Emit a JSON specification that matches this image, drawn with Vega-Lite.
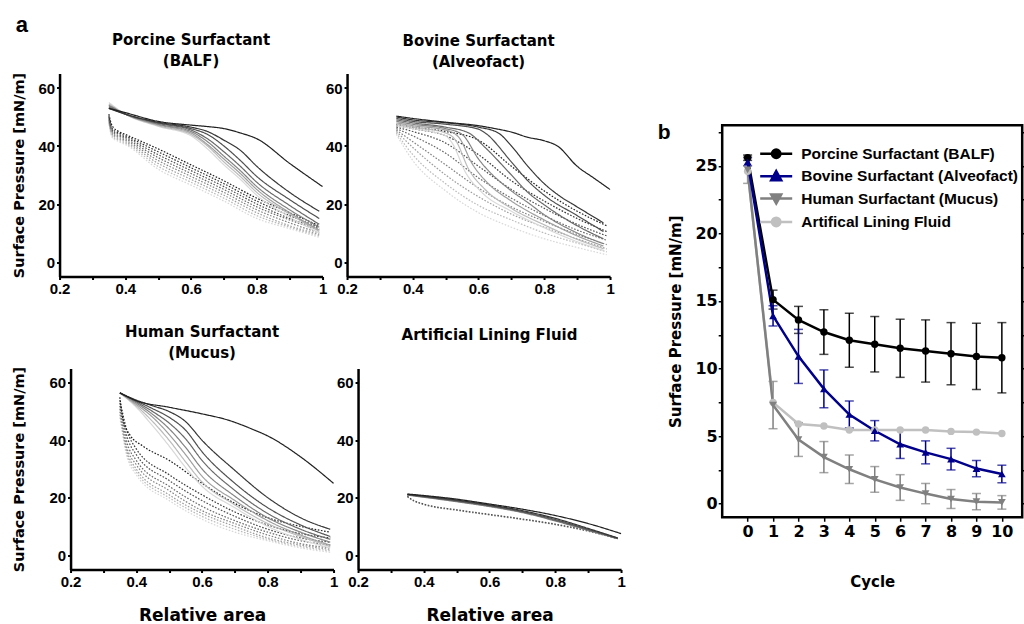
{
"$schema": "https://vega.github.io/schema/vega-lite/v6.json",
"padding": {"left": 7.05, "top": 13.5, "right": 0, "bottom": 0},
"background": "white",
"config": {
  "font": "DejaVu Sans",
  "view": {"stroke": null},
  "axis": {"labelFont": "Liberation Sans", "labelFontWeight": "bold", "labelColor": "black", "titleFont": "DejaVu Sans", "titleFontWeight": "bold", "titleColor": "black", "domainColor": "black", "tickColor": "black", "grid": false, "labelFlush": false, "labelOverlap": false},
  "title": {"font": "DejaVu Sans", "fontWeight": "bold", "color": "black"}
},
"datasets": {
"iso": [
{"p":"A","n":8,"d":"e","x":0.35,"y":47.5},{"p":"A","n":8,"d":"e","x":0.36,"y":43},{"p":"A","n":8,"d":"e","x":0.38,"y":41.5},{"p":"A","n":8,"d":"e","x":0.4,"y":40.5},{"p":"A","n":8,"d":"e","x":0.5,"y":32},{"p":"A","n":8,"d":"e","x":0.6,"y":26.5},{"p":"A","n":8,"d":"e","x":0.7,"y":21},{"p":"A","n":8,"d":"e","x":0.8,"y":15},{"p":"A","n":8,"d":"e","x":0.9,"y":11.5},{"p":"A","n":8,"d":"e","x":0.99,"y":8.5},
{"p":"A","n":7,"d":"e","x":0.35,"y":48},{"p":"A","n":7,"d":"e","x":0.36,"y":43.5},{"p":"A","n":7,"d":"e","x":0.38,"y":42},{"p":"A","n":7,"d":"e","x":0.4,"y":41},{"p":"A","n":7,"d":"e","x":0.5,"y":33},{"p":"A","n":7,"d":"e","x":0.6,"y":27.5},{"p":"A","n":7,"d":"e","x":0.7,"y":22},{"p":"A","n":7,"d":"e","x":0.8,"y":16},{"p":"A","n":7,"d":"e","x":0.9,"y":12},{"p":"A","n":7,"d":"e","x":0.99,"y":9},
{"p":"A","n":6,"d":"e","x":0.35,"y":48.5},{"p":"A","n":6,"d":"e","x":0.36,"y":44},{"p":"A","n":6,"d":"e","x":0.38,"y":42.5},{"p":"A","n":6,"d":"e","x":0.4,"y":41.5},{"p":"A","n":6,"d":"e","x":0.5,"y":34},{"p":"A","n":6,"d":"e","x":0.6,"y":28.5},{"p":"A","n":6,"d":"e","x":0.7,"y":23},{"p":"A","n":6,"d":"e","x":0.8,"y":17},{"p":"A","n":6,"d":"e","x":0.9,"y":12.5},{"p":"A","n":6,"d":"e","x":0.99,"y":9.5},
{"p":"A","n":5,"d":"e","x":0.35,"y":49},{"p":"A","n":5,"d":"e","x":0.36,"y":44.5},{"p":"A","n":5,"d":"e","x":0.38,"y":43},{"p":"A","n":5,"d":"e","x":0.4,"y":42},{"p":"A","n":5,"d":"e","x":0.5,"y":35},{"p":"A","n":5,"d":"e","x":0.6,"y":29.5},{"p":"A","n":5,"d":"e","x":0.7,"y":24},{"p":"A","n":5,"d":"e","x":0.8,"y":18},{"p":"A","n":5,"d":"e","x":0.9,"y":13.5},{"p":"A","n":5,"d":"e","x":0.99,"y":10},
{"p":"A","n":4,"d":"e","x":0.35,"y":49.5},{"p":"A","n":4,"d":"e","x":0.36,"y":45},{"p":"A","n":4,"d":"e","x":0.38,"y":43.5},{"p":"A","n":4,"d":"e","x":0.4,"y":42.5},{"p":"A","n":4,"d":"e","x":0.5,"y":36},{"p":"A","n":4,"d":"e","x":0.6,"y":30.5},{"p":"A","n":4,"d":"e","x":0.7,"y":25},{"p":"A","n":4,"d":"e","x":0.8,"y":19},{"p":"A","n":4,"d":"e","x":0.9,"y":14.5},{"p":"A","n":4,"d":"e","x":0.99,"y":11},
{"p":"A","n":3,"d":"e","x":0.35,"y":50},{"p":"A","n":3,"d":"e","x":0.36,"y":45.5},{"p":"A","n":3,"d":"e","x":0.38,"y":44},{"p":"A","n":3,"d":"e","x":0.4,"y":43},{"p":"A","n":3,"d":"e","x":0.5,"y":37},{"p":"A","n":3,"d":"e","x":0.6,"y":31.5},{"p":"A","n":3,"d":"e","x":0.7,"y":26},{"p":"A","n":3,"d":"e","x":0.8,"y":20},{"p":"A","n":3,"d":"e","x":0.9,"y":15},{"p":"A","n":3,"d":"e","x":0.99,"y":11.5},
{"p":"A","n":2,"d":"e","x":0.35,"y":50.5},{"p":"A","n":2,"d":"e","x":0.36,"y":46},{"p":"A","n":2,"d":"e","x":0.38,"y":44.5},{"p":"A","n":2,"d":"e","x":0.4,"y":43.5},{"p":"A","n":2,"d":"e","x":0.5,"y":38},{"p":"A","n":2,"d":"e","x":0.6,"y":32.5},{"p":"A","n":2,"d":"e","x":0.7,"y":27},{"p":"A","n":2,"d":"e","x":0.8,"y":21},{"p":"A","n":2,"d":"e","x":0.9,"y":16},{"p":"A","n":2,"d":"e","x":0.99,"y":12},
{"p":"A","n":1,"d":"e","x":0.35,"y":51},{"p":"A","n":1,"d":"e","x":0.36,"y":47},{"p":"A","n":1,"d":"e","x":0.38,"y":45},{"p":"A","n":1,"d":"e","x":0.4,"y":44},{"p":"A","n":1,"d":"e","x":0.5,"y":39},{"p":"A","n":1,"d":"e","x":0.6,"y":33.5},{"p":"A","n":1,"d":"e","x":0.7,"y":28},{"p":"A","n":1,"d":"e","x":0.8,"y":22},{"p":"A","n":1,"d":"e","x":0.9,"y":17},{"p":"A","n":1,"d":"e","x":0.99,"y":12.5},
{"p":"A","n":8,"d":"s","x":0.35,"y":55},{"p":"A","n":8,"d":"s","x":0.4,"y":51},{"p":"A","n":8,"d":"s","x":0.5,"y":46.8},{"p":"A","n":8,"d":"s","x":0.6,"y":43.5},{"p":"A","n":8,"d":"s","x":0.65,"y":39},{"p":"A","n":8,"d":"s","x":0.7,"y":33.5},{"p":"A","n":8,"d":"s","x":0.75,"y":28.5},{"p":"A","n":8,"d":"s","x":0.8,"y":23},{"p":"A","n":8,"d":"s","x":0.9,"y":15.5},{"p":"A","n":8,"d":"s","x":0.99,"y":10},
{"p":"A","n":7,"d":"s","x":0.35,"y":54.5},{"p":"A","n":7,"d":"s","x":0.4,"y":51},{"p":"A","n":7,"d":"s","x":0.5,"y":47},{"p":"A","n":7,"d":"s","x":0.6,"y":44},{"p":"A","n":7,"d":"s","x":0.65,"y":40},{"p":"A","n":7,"d":"s","x":0.7,"y":34.5},{"p":"A","n":7,"d":"s","x":0.75,"y":29.5},{"p":"A","n":7,"d":"s","x":0.8,"y":24},{"p":"A","n":7,"d":"s","x":0.9,"y":16.5},{"p":"A","n":7,"d":"s","x":0.99,"y":10.5},
{"p":"A","n":6,"d":"s","x":0.35,"y":54},{"p":"A","n":6,"d":"s","x":0.4,"y":51},{"p":"A","n":6,"d":"s","x":0.5,"y":47.3},{"p":"A","n":6,"d":"s","x":0.6,"y":44.5},{"p":"A","n":6,"d":"s","x":0.65,"y":40.5},{"p":"A","n":6,"d":"s","x":0.7,"y":35.5},{"p":"A","n":6,"d":"s","x":0.75,"y":30.5},{"p":"A","n":6,"d":"s","x":0.8,"y":25},{"p":"A","n":6,"d":"s","x":0.9,"y":17},{"p":"A","n":6,"d":"s","x":0.99,"y":11},
{"p":"A","n":5,"d":"s","x":0.35,"y":54},{"p":"A","n":5,"d":"s","x":0.4,"y":51},{"p":"A","n":5,"d":"s","x":0.5,"y":47.5},{"p":"A","n":5,"d":"s","x":0.6,"y":45},{"p":"A","n":5,"d":"s","x":0.65,"y":41.5},{"p":"A","n":5,"d":"s","x":0.7,"y":36.5},{"p":"A","n":5,"d":"s","x":0.75,"y":31.5},{"p":"A","n":5,"d":"s","x":0.8,"y":26},{"p":"A","n":5,"d":"s","x":0.9,"y":18},{"p":"A","n":5,"d":"s","x":0.99,"y":12},
{"p":"A","n":4,"d":"s","x":0.35,"y":53.5},{"p":"A","n":4,"d":"s","x":0.4,"y":51},{"p":"A","n":4,"d":"s","x":0.5,"y":47.8},{"p":"A","n":4,"d":"s","x":0.6,"y":45.5},{"p":"A","n":4,"d":"s","x":0.65,"y":42.5},{"p":"A","n":4,"d":"s","x":0.7,"y":38},{"p":"A","n":4,"d":"s","x":0.75,"y":33},{"p":"A","n":4,"d":"s","x":0.8,"y":27.5},{"p":"A","n":4,"d":"s","x":0.9,"y":19.5},{"p":"A","n":4,"d":"s","x":0.99,"y":13},
{"p":"A","n":3,"d":"s","x":0.35,"y":53},{"p":"A","n":3,"d":"s","x":0.4,"y":51},{"p":"A","n":3,"d":"s","x":0.5,"y":48},{"p":"A","n":3,"d":"s","x":0.6,"y":46},{"p":"A","n":3,"d":"s","x":0.65,"y":44},{"p":"A","n":3,"d":"s","x":0.7,"y":40},{"p":"A","n":3,"d":"s","x":0.75,"y":35},{"p":"A","n":3,"d":"s","x":0.8,"y":29.5},{"p":"A","n":3,"d":"s","x":0.9,"y":21.5},{"p":"A","n":3,"d":"s","x":0.99,"y":15},
{"p":"A","n":2,"d":"s","x":0.35,"y":53},{"p":"A","n":2,"d":"s","x":0.4,"y":51},{"p":"A","n":2,"d":"s","x":0.5,"y":48.2},{"p":"A","n":2,"d":"s","x":0.6,"y":46.5},{"p":"A","n":2,"d":"s","x":0.65,"y":45},{"p":"A","n":2,"d":"s","x":0.7,"y":42},{"p":"A","n":2,"d":"s","x":0.75,"y":38.5},{"p":"A","n":2,"d":"s","x":0.8,"y":33},{"p":"A","n":2,"d":"s","x":0.9,"y":24},{"p":"A","n":2,"d":"s","x":0.99,"y":17.5},
{"p":"A","n":1,"d":"s","x":0.35,"y":53},{"p":"A","n":1,"d":"s","x":0.4,"y":51.5},{"p":"A","n":1,"d":"s","x":0.5,"y":48.5},{"p":"A","n":1,"d":"s","x":0.6,"y":47.2},{"p":"A","n":1,"d":"s","x":0.65,"y":46.7},{"p":"A","n":1,"d":"s","x":0.7,"y":46},{"p":"A","n":1,"d":"s","x":0.75,"y":44.5},{"p":"A","n":1,"d":"s","x":0.8,"y":42.5},{"p":"A","n":1,"d":"s","x":0.9,"y":34},{"p":"A","n":1,"d":"s","x":1.0,"y":26},
{"p":"B","n":8,"d":"e","x":0.35,"y":44},{"p":"B","n":8,"d":"e","x":0.4,"y":35},{"p":"B","n":8,"d":"e","x":0.5,"y":24.5},{"p":"B","n":8,"d":"e","x":0.6,"y":17},{"p":"B","n":8,"d":"e","x":0.7,"y":12},{"p":"B","n":8,"d":"e","x":0.8,"y":8},{"p":"B","n":8,"d":"e","x":0.9,"y":5},{"p":"B","n":8,"d":"e","x":0.99,"y":2.5},
{"p":"B","n":7,"d":"e","x":0.35,"y":44.5},{"p":"B","n":7,"d":"e","x":0.4,"y":37},{"p":"B","n":7,"d":"e","x":0.5,"y":27},{"p":"B","n":7,"d":"e","x":0.6,"y":19.5},{"p":"B","n":7,"d":"e","x":0.7,"y":14.5},{"p":"B","n":7,"d":"e","x":0.8,"y":10},{"p":"B","n":7,"d":"e","x":0.9,"y":6.5},{"p":"B","n":7,"d":"e","x":0.99,"y":3.5},
{"p":"B","n":6,"d":"e","x":0.35,"y":45},{"p":"B","n":6,"d":"e","x":0.4,"y":39.5},{"p":"B","n":6,"d":"e","x":0.5,"y":30},{"p":"B","n":6,"d":"e","x":0.6,"y":22.5},{"p":"B","n":6,"d":"e","x":0.7,"y":16.5},{"p":"B","n":6,"d":"e","x":0.8,"y":12},{"p":"B","n":6,"d":"e","x":0.9,"y":8},{"p":"B","n":6,"d":"e","x":0.99,"y":4.5},
{"p":"B","n":5,"d":"e","x":0.35,"y":45.5},{"p":"B","n":5,"d":"e","x":0.4,"y":41.5},{"p":"B","n":5,"d":"e","x":0.5,"y":33.5},{"p":"B","n":5,"d":"e","x":0.6,"y":25.5},{"p":"B","n":5,"d":"e","x":0.7,"y":19},{"p":"B","n":5,"d":"e","x":0.8,"y":14},{"p":"B","n":5,"d":"e","x":0.9,"y":9.5},{"p":"B","n":5,"d":"e","x":0.99,"y":6},
{"p":"B","n":4,"d":"e","x":0.35,"y":46},{"p":"B","n":4,"d":"e","x":0.4,"y":43.5},{"p":"B","n":4,"d":"e","x":0.5,"y":37.5},{"p":"B","n":4,"d":"e","x":0.6,"y":29},{"p":"B","n":4,"d":"e","x":0.7,"y":22},{"p":"B","n":4,"d":"e","x":0.8,"y":16},{"p":"B","n":4,"d":"e","x":0.9,"y":11},{"p":"B","n":4,"d":"e","x":0.99,"y":7.5},
{"p":"B","n":3,"d":"e","x":0.35,"y":46.5},{"p":"B","n":3,"d":"e","x":0.4,"y":45},{"p":"B","n":3,"d":"e","x":0.5,"y":41},{"p":"B","n":3,"d":"e","x":0.6,"y":33},{"p":"B","n":3,"d":"e","x":0.7,"y":25},{"p":"B","n":3,"d":"e","x":0.8,"y":18.5},{"p":"B","n":3,"d":"e","x":0.9,"y":13},{"p":"B","n":3,"d":"e","x":0.99,"y":9},
{"p":"B","n":2,"d":"e","x":0.35,"y":47},{"p":"B","n":2,"d":"e","x":0.4,"y":46},{"p":"B","n":2,"d":"e","x":0.5,"y":43.5},{"p":"B","n":2,"d":"e","x":0.6,"y":37},{"p":"B","n":2,"d":"e","x":0.7,"y":28},{"p":"B","n":2,"d":"e","x":0.8,"y":21},{"p":"B","n":2,"d":"e","x":0.9,"y":15},{"p":"B","n":2,"d":"e","x":0.99,"y":10.5},
{"p":"B","n":1,"d":"e","x":0.35,"y":47.5},{"p":"B","n":1,"d":"e","x":0.4,"y":46.5},{"p":"B","n":1,"d":"e","x":0.5,"y":45},{"p":"B","n":1,"d":"e","x":0.6,"y":42},{"p":"B","n":1,"d":"e","x":0.7,"y":33},{"p":"B","n":1,"d":"e","x":0.8,"y":24.5},{"p":"B","n":1,"d":"e","x":0.9,"y":17.5},{"p":"B","n":1,"d":"e","x":0.99,"y":12.5},
{"p":"B","n":8,"d":"s","x":0.35,"y":47},{"p":"B","n":8,"d":"s","x":0.4,"y":46},{"p":"B","n":8,"d":"s","x":0.5,"y":43.5},{"p":"B","n":8,"d":"s","x":0.52,"y":41},{"p":"B","n":8,"d":"s","x":0.56,"y":31},{"p":"B","n":8,"d":"s","x":0.61,"y":24},{"p":"B","n":8,"d":"s","x":0.7,"y":17.5},{"p":"B","n":8,"d":"s","x":0.8,"y":11.8},{"p":"B","n":8,"d":"s","x":0.9,"y":7},{"p":"B","n":8,"d":"s","x":0.98,"y":4},
{"p":"B","n":7,"d":"s","x":0.35,"y":47.5},{"p":"B","n":7,"d":"s","x":0.4,"y":46.5},{"p":"B","n":7,"d":"s","x":0.5,"y":44.5},{"p":"B","n":7,"d":"s","x":0.53,"y":42},{"p":"B","n":7,"d":"s","x":0.57,"y":32},{"p":"B","n":7,"d":"s","x":0.62,"y":25},{"p":"B","n":7,"d":"s","x":0.7,"y":18.5},{"p":"B","n":7,"d":"s","x":0.8,"y":12.8},{"p":"B","n":7,"d":"s","x":0.9,"y":7.8},{"p":"B","n":7,"d":"s","x":0.98,"y":4.6},
{"p":"B","n":6,"d":"s","x":0.35,"y":48},{"p":"B","n":6,"d":"s","x":0.4,"y":47},{"p":"B","n":6,"d":"s","x":0.5,"y":45.5},{"p":"B","n":6,"d":"s","x":0.54,"y":43},{"p":"B","n":6,"d":"s","x":0.58,"y":34},{"p":"B","n":6,"d":"s","x":0.63,"y":27},{"p":"B","n":6,"d":"s","x":0.7,"y":21},{"p":"B","n":6,"d":"s","x":0.8,"y":14.5},{"p":"B","n":6,"d":"s","x":0.9,"y":9},{"p":"B","n":6,"d":"s","x":0.98,"y":5.5},
{"p":"B","n":5,"d":"s","x":0.35,"y":48.5},{"p":"B","n":5,"d":"s","x":0.4,"y":47.5},{"p":"B","n":5,"d":"s","x":0.5,"y":46},{"p":"B","n":5,"d":"s","x":0.55,"y":44},{"p":"B","n":5,"d":"s","x":0.6,"y":35.5},{"p":"B","n":5,"d":"s","x":0.7,"y":24.5},{"p":"B","n":5,"d":"s","x":0.75,"y":20.5},{"p":"B","n":5,"d":"s","x":0.8,"y":16.3},{"p":"B","n":5,"d":"s","x":0.9,"y":10},{"p":"B","n":5,"d":"s","x":0.98,"y":6.3},
{"p":"B","n":4,"d":"s","x":0.35,"y":49},{"p":"B","n":4,"d":"s","x":0.4,"y":48},{"p":"B","n":4,"d":"s","x":0.5,"y":46.5},{"p":"B","n":4,"d":"s","x":0.57,"y":44.5},{"p":"B","n":4,"d":"s","x":0.62,"y":39.5},{"p":"B","n":4,"d":"s","x":0.7,"y":30},{"p":"B","n":4,"d":"s","x":0.75,"y":24},{"p":"B","n":4,"d":"s","x":0.8,"y":19.7},{"p":"B","n":4,"d":"s","x":0.9,"y":12.5},{"p":"B","n":4,"d":"s","x":0.98,"y":8},
{"p":"B","n":3,"d":"s","x":0.35,"y":49.5},{"p":"B","n":3,"d":"s","x":0.4,"y":48.5},{"p":"B","n":3,"d":"s","x":0.5,"y":47.5},{"p":"B","n":3,"d":"s","x":0.6,"y":45.8},{"p":"B","n":3,"d":"s","x":0.62,"y":44.5},{"p":"B","n":3,"d":"s","x":0.7,"y":34.5},{"p":"B","n":3,"d":"s","x":0.75,"y":28},{"p":"B","n":3,"d":"s","x":0.8,"y":23},{"p":"B","n":3,"d":"s","x":0.9,"y":16},{"p":"B","n":3,"d":"s","x":0.98,"y":10.5},
{"p":"B","n":2,"d":"s","x":0.35,"y":50},{"p":"B","n":2,"d":"s","x":0.4,"y":49},{"p":"B","n":2,"d":"s","x":0.5,"y":48},{"p":"B","n":2,"d":"s","x":0.6,"y":46.5},{"p":"B","n":2,"d":"s","x":0.66,"y":44.5},{"p":"B","n":2,"d":"s","x":0.7,"y":40},{"p":"B","n":2,"d":"s","x":0.75,"y":33},{"p":"B","n":2,"d":"s","x":0.8,"y":27},{"p":"B","n":2,"d":"s","x":0.85,"y":22.5},{"p":"B","n":2,"d":"s","x":0.9,"y":19},{"p":"B","n":2,"d":"s","x":0.98,"y":13.5},
{"p":"B","n":1,"d":"s","x":0.35,"y":50.3},{"p":"B","n":1,"d":"s","x":0.4,"y":49.5},{"p":"B","n":1,"d":"s","x":0.5,"y":48.2},{"p":"B","n":1,"d":"s","x":0.6,"y":47},{"p":"B","n":1,"d":"s","x":0.65,"y":46},{"p":"B","n":1,"d":"s","x":0.7,"y":44.8},{"p":"B","n":1,"d":"s","x":0.75,"y":43},{"p":"B","n":1,"d":"s","x":0.8,"y":41.8},{"p":"B","n":1,"d":"s","x":0.84,"y":40},{"p":"B","n":1,"d":"s","x":0.9,"y":33},{"p":"B","n":1,"d":"s","x":0.95,"y":29},{"p":"B","n":1,"d":"s","x":1.0,"y":25},
{"p":"C","n":8,"d":"e","x":0.35,"y":48},{"p":"C","n":8,"d":"e","x":0.37,"y":35},{"p":"C","n":8,"d":"e","x":0.4,"y":28},{"p":"C","n":8,"d":"e","x":0.5,"y":19},{"p":"C","n":8,"d":"e","x":0.6,"y":12.5},{"p":"C","n":8,"d":"e","x":0.7,"y":8},{"p":"C","n":8,"d":"e","x":0.8,"y":5},{"p":"C","n":8,"d":"e","x":0.9,"y":2.5},{"p":"C","n":8,"d":"e","x":0.99,"y":1},
{"p":"C","n":7,"d":"e","x":0.35,"y":49},{"p":"C","n":7,"d":"e","x":0.37,"y":36},{"p":"C","n":7,"d":"e","x":0.4,"y":29},{"p":"C","n":7,"d":"e","x":0.5,"y":20},{"p":"C","n":7,"d":"e","x":0.6,"y":13.5},{"p":"C","n":7,"d":"e","x":0.7,"y":9},{"p":"C","n":7,"d":"e","x":0.8,"y":5.5},{"p":"C","n":7,"d":"e","x":0.9,"y":3},{"p":"C","n":7,"d":"e","x":0.99,"y":1.5},
{"p":"C","n":6,"d":"e","x":0.35,"y":50},{"p":"C","n":6,"d":"e","x":0.37,"y":37},{"p":"C","n":6,"d":"e","x":0.4,"y":30},{"p":"C","n":6,"d":"e","x":0.5,"y":21},{"p":"C","n":6,"d":"e","x":0.6,"y":14.5},{"p":"C","n":6,"d":"e","x":0.7,"y":10},{"p":"C","n":6,"d":"e","x":0.8,"y":6},{"p":"C","n":6,"d":"e","x":0.9,"y":3.5},{"p":"C","n":6,"d":"e","x":0.99,"y":2},
{"p":"C","n":5,"d":"e","x":0.35,"y":51},{"p":"C","n":5,"d":"e","x":0.37,"y":38},{"p":"C","n":5,"d":"e","x":0.4,"y":31.5},{"p":"C","n":5,"d":"e","x":0.5,"y":22.5},{"p":"C","n":5,"d":"e","x":0.6,"y":15.5},{"p":"C","n":5,"d":"e","x":0.7,"y":11},{"p":"C","n":5,"d":"e","x":0.8,"y":7},{"p":"C","n":5,"d":"e","x":0.9,"y":4},{"p":"C","n":5,"d":"e","x":0.99,"y":2.5},
{"p":"C","n":4,"d":"e","x":0.35,"y":52},{"p":"C","n":4,"d":"e","x":0.37,"y":40},{"p":"C","n":4,"d":"e","x":0.4,"y":33},{"p":"C","n":4,"d":"e","x":0.5,"y":24},{"p":"C","n":4,"d":"e","x":0.6,"y":17},{"p":"C","n":4,"d":"e","x":0.7,"y":12},{"p":"C","n":4,"d":"e","x":0.8,"y":8},{"p":"C","n":4,"d":"e","x":0.9,"y":5},{"p":"C","n":4,"d":"e","x":0.99,"y":3.5},
{"p":"C","n":3,"d":"e","x":0.35,"y":53},{"p":"C","n":3,"d":"e","x":0.37,"y":42},{"p":"C","n":3,"d":"e","x":0.4,"y":35},{"p":"C","n":3,"d":"e","x":0.5,"y":26},{"p":"C","n":3,"d":"e","x":0.6,"y":19},{"p":"C","n":3,"d":"e","x":0.7,"y":13.5},{"p":"C","n":3,"d":"e","x":0.8,"y":9},{"p":"C","n":3,"d":"e","x":0.9,"y":6},{"p":"C","n":3,"d":"e","x":0.99,"y":4.5},
{"p":"C","n":2,"d":"e","x":0.35,"y":54},{"p":"C","n":2,"d":"e","x":0.37,"y":44},{"p":"C","n":2,"d":"e","x":0.4,"y":37},{"p":"C","n":2,"d":"e","x":0.5,"y":28},{"p":"C","n":2,"d":"e","x":0.6,"y":21},{"p":"C","n":2,"d":"e","x":0.7,"y":15},{"p":"C","n":2,"d":"e","x":0.8,"y":10.5},{"p":"C","n":2,"d":"e","x":0.9,"y":7.5},{"p":"C","n":2,"d":"e","x":0.99,"y":6},
{"p":"C","n":1,"d":"e","x":0.35,"y":55},{"p":"C","n":1,"d":"e","x":0.36,"y":47},{"p":"C","n":1,"d":"e","x":0.38,"y":42},{"p":"C","n":1,"d":"e","x":0.42,"y":38},{"p":"C","n":1,"d":"e","x":0.5,"y":33},{"p":"C","n":1,"d":"e","x":0.6,"y":25},{"p":"C","n":1,"d":"e","x":0.7,"y":18},{"p":"C","n":1,"d":"e","x":0.8,"y":13},{"p":"C","n":1,"d":"e","x":0.9,"y":10},{"p":"C","n":1,"d":"e","x":0.99,"y":8},
{"p":"C","n":8,"d":"s","x":0.35,"y":56.5},{"p":"C","n":8,"d":"s","x":0.4,"y":51.5},{"p":"C","n":8,"d":"s","x":0.45,"y":45},{"p":"C","n":8,"d":"s","x":0.5,"y":38},{"p":"C","n":8,"d":"s","x":0.55,"y":30.5},{"p":"C","n":8,"d":"s","x":0.6,"y":24},{"p":"C","n":8,"d":"s","x":0.7,"y":16.5},{"p":"C","n":8,"d":"s","x":0.8,"y":10},{"p":"C","n":8,"d":"s","x":0.9,"y":5.5},{"p":"C","n":8,"d":"s","x":0.99,"y":2.5},
{"p":"C","n":7,"d":"s","x":0.35,"y":56.5},{"p":"C","n":7,"d":"s","x":0.4,"y":52},{"p":"C","n":7,"d":"s","x":0.45,"y":46.5},{"p":"C","n":7,"d":"s","x":0.5,"y":40},{"p":"C","n":7,"d":"s","x":0.55,"y":32.5},{"p":"C","n":7,"d":"s","x":0.6,"y":25.5},{"p":"C","n":7,"d":"s","x":0.7,"y":17.5},{"p":"C","n":7,"d":"s","x":0.8,"y":11},{"p":"C","n":7,"d":"s","x":0.9,"y":6.5},{"p":"C","n":7,"d":"s","x":0.99,"y":3},
{"p":"C","n":6,"d":"s","x":0.35,"y":56.5},{"p":"C","n":6,"d":"s","x":0.4,"y":52.5},{"p":"C","n":6,"d":"s","x":0.45,"y":48},{"p":"C","n":6,"d":"s","x":0.5,"y":42},{"p":"C","n":6,"d":"s","x":0.55,"y":35},{"p":"C","n":6,"d":"s","x":0.6,"y":27.5},{"p":"C","n":6,"d":"s","x":0.7,"y":19},{"p":"C","n":6,"d":"s","x":0.8,"y":12},{"p":"C","n":6,"d":"s","x":0.9,"y":7},{"p":"C","n":6,"d":"s","x":0.99,"y":3.5},
{"p":"C","n":5,"d":"s","x":0.35,"y":56.5},{"p":"C","n":5,"d":"s","x":0.4,"y":53},{"p":"C","n":5,"d":"s","x":0.45,"y":49},{"p":"C","n":5,"d":"s","x":0.5,"y":44},{"p":"C","n":5,"d":"s","x":0.55,"y":37.5},{"p":"C","n":5,"d":"s","x":0.6,"y":30},{"p":"C","n":5,"d":"s","x":0.7,"y":20.5},{"p":"C","n":5,"d":"s","x":0.8,"y":13},{"p":"C","n":5,"d":"s","x":0.9,"y":8},{"p":"C","n":5,"d":"s","x":0.99,"y":4.5},
{"p":"C","n":4,"d":"s","x":0.35,"y":56.5},{"p":"C","n":4,"d":"s","x":0.4,"y":53.4},{"p":"C","n":4,"d":"s","x":0.45,"y":50},{"p":"C","n":4,"d":"s","x":0.5,"y":46},{"p":"C","n":4,"d":"s","x":0.55,"y":40.5},{"p":"C","n":4,"d":"s","x":0.6,"y":33},{"p":"C","n":4,"d":"s","x":0.7,"y":22.5},{"p":"C","n":4,"d":"s","x":0.8,"y":14.5},{"p":"C","n":4,"d":"s","x":0.9,"y":9},{"p":"C","n":4,"d":"s","x":0.99,"y":5.5},
{"p":"C","n":3,"d":"s","x":0.35,"y":56.5},{"p":"C","n":3,"d":"s","x":0.4,"y":53.7},{"p":"C","n":3,"d":"s","x":0.45,"y":51},{"p":"C","n":3,"d":"s","x":0.5,"y":48},{"p":"C","n":3,"d":"s","x":0.55,"y":43.5},{"p":"C","n":3,"d":"s","x":0.6,"y":36},{"p":"C","n":3,"d":"s","x":0.7,"y":25},{"p":"C","n":3,"d":"s","x":0.8,"y":16.5},{"p":"C","n":3,"d":"s","x":0.9,"y":10.5},{"p":"C","n":3,"d":"s","x":0.99,"y":6.5},
{"p":"C","n":2,"d":"s","x":0.35,"y":56.5},{"p":"C","n":2,"d":"s","x":0.4,"y":54},{"p":"C","n":2,"d":"s","x":0.45,"y":52},{"p":"C","n":2,"d":"s","x":0.5,"y":50},{"p":"C","n":2,"d":"s","x":0.55,"y":46.5},{"p":"C","n":2,"d":"s","x":0.6,"y":40},{"p":"C","n":2,"d":"s","x":0.7,"y":29.5},{"p":"C","n":2,"d":"s","x":0.8,"y":20},{"p":"C","n":2,"d":"s","x":0.9,"y":13},{"p":"C","n":2,"d":"s","x":0.99,"y":9},
{"p":"C","n":1,"d":"s","x":0.35,"y":56.5},{"p":"C","n":1,"d":"s","x":0.4,"y":53.8},{"p":"C","n":1,"d":"s","x":0.5,"y":51.5},{"p":"C","n":1,"d":"s","x":0.6,"y":49.2},{"p":"C","n":1,"d":"s","x":0.68,"y":47},{"p":"C","n":1,"d":"s","x":0.75,"y":44},{"p":"C","n":1,"d":"s","x":0.8,"y":41.5},{"p":"C","n":1,"d":"s","x":0.9,"y":34.2},{"p":"C","n":1,"d":"s","x":1.0,"y":25},
{"p":"D","n":5,"d":"e","x":0.35,"y":20.3},{"p":"D","n":5,"d":"e","x":0.37,"y":18.8},{"p":"D","n":5,"d":"e","x":0.4,"y":17.6},{"p":"D","n":5,"d":"e","x":0.5,"y":15.6},{"p":"D","n":5,"d":"e","x":0.6,"y":14},{"p":"D","n":5,"d":"e","x":0.7,"y":12.4},{"p":"D","n":5,"d":"e","x":0.8,"y":10.6},{"p":"D","n":5,"d":"e","x":0.9,"y":8.3},{"p":"D","n":5,"d":"e","x":0.99,"y":5.7},
{"p":"D","n":3,"d":"e","x":0.35,"y":20.5},{"p":"D","n":3,"d":"e","x":0.37,"y":19},{"p":"D","n":3,"d":"e","x":0.4,"y":17.8},{"p":"D","n":3,"d":"e","x":0.5,"y":15.8},{"p":"D","n":3,"d":"e","x":0.6,"y":14.2},{"p":"D","n":3,"d":"e","x":0.7,"y":12.6},{"p":"D","n":3,"d":"e","x":0.8,"y":10.8},{"p":"D","n":3,"d":"e","x":0.9,"y":8.5},{"p":"D","n":3,"d":"e","x":0.99,"y":5.8},
{"p":"D","n":5,"d":"s","x":0.35,"y":20.9},{"p":"D","n":5,"d":"s","x":0.5,"y":18.6},{"p":"D","n":5,"d":"s","x":0.6,"y":16.9},{"p":"D","n":5,"d":"s","x":0.7,"y":14.8},{"p":"D","n":5,"d":"s","x":0.8,"y":11.9},{"p":"D","n":5,"d":"s","x":0.9,"y":8.6},{"p":"D","n":5,"d":"s","x":0.99,"y":5.7},
{"p":"D","n":4,"d":"s","x":0.35,"y":21},{"p":"D","n":4,"d":"s","x":0.5,"y":18.8},{"p":"D","n":4,"d":"s","x":0.6,"y":17.1},{"p":"D","n":4,"d":"s","x":0.7,"y":15},{"p":"D","n":4,"d":"s","x":0.8,"y":12.1},{"p":"D","n":4,"d":"s","x":0.9,"y":8.8},{"p":"D","n":4,"d":"s","x":0.99,"y":5.8},
{"p":"D","n":3,"d":"s","x":0.35,"y":21.1},{"p":"D","n":3,"d":"s","x":0.5,"y":19},{"p":"D","n":3,"d":"s","x":0.6,"y":17.3},{"p":"D","n":3,"d":"s","x":0.7,"y":15.2},{"p":"D","n":3,"d":"s","x":0.8,"y":12.4},{"p":"D","n":3,"d":"s","x":0.9,"y":9},{"p":"D","n":3,"d":"s","x":0.99,"y":5.9},
{"p":"D","n":2,"d":"s","x":0.35,"y":21.2},{"p":"D","n":2,"d":"s","x":0.5,"y":19.2},{"p":"D","n":2,"d":"s","x":0.6,"y":17.5},{"p":"D","n":2,"d":"s","x":0.7,"y":15.5},{"p":"D","n":2,"d":"s","x":0.8,"y":12.8},{"p":"D","n":2,"d":"s","x":0.9,"y":9.3},{"p":"D","n":2,"d":"s","x":0.99,"y":6},
{"p":"D","n":1,"d":"s","x":0.35,"y":21.3},{"p":"D","n":1,"d":"s","x":0.5,"y":19.5},{"p":"D","n":1,"d":"s","x":0.6,"y":17.8},{"p":"D","n":1,"d":"s","x":0.7,"y":16},{"p":"D","n":1,"d":"s","x":0.8,"y":13.8},{"p":"D","n":1,"d":"s","x":0.9,"y":11},{"p":"D","n":1,"d":"s","x":1.0,"y":7.5}
],
"cyc": [
{"s":"Artifical Lining Fluid","c":0,"y":24.6,"e":0},{"s":"Artifical Lining Fluid","c":1,"y":7.5,"e":0},{"s":"Artifical Lining Fluid","c":2,"y":5.9,"e":0},{"s":"Artifical Lining Fluid","c":3,"y":5.75,"e":0},{"s":"Artifical Lining Fluid","c":4,"y":5.45,"e":0},{"s":"Artifical Lining Fluid","c":5,"y":5.45,"e":0},{"s":"Artifical Lining Fluid","c":6,"y":5.45,"e":0},{"s":"Artifical Lining Fluid","c":7,"y":5.45,"e":0},{"s":"Artifical Lining Fluid","c":8,"y":5.35,"e":0},{"s":"Artifical Lining Fluid","c":9,"y":5.3,"e":0},{"s":"Artifical Lining Fluid","c":10,"y":5.2,"e":0},
{"s":"Human Surfactant (Mucus)","c":0,"y":24.7,"e":1.0},{"s":"Human Surfactant (Mucus)","c":1,"y":7.3,"e":1.75},{"s":"Human Surfactant (Mucus)","c":2,"y":4.75,"e":1.25},{"s":"Human Surfactant (Mucus)","c":3,"y":3.45,"e":1.15},{"s":"Human Surfactant (Mucus)","c":4,"y":2.55,"e":1.05},{"s":"Human Surfactant (Mucus)","c":5,"y":1.8,"e":0.95},{"s":"Human Surfactant (Mucus)","c":6,"y":1.2,"e":0.95},{"s":"Human Surfactant (Mucus)","c":7,"y":0.75,"e":0.75},{"s":"Human Surfactant (Mucus)","c":8,"y":0.35,"e":0.7},{"s":"Human Surfactant (Mucus)","c":9,"y":0.15,"e":0.6},{"s":"Human Surfactant (Mucus)","c":10,"y":0.1,"e":0.5},
{"s":"Porcine Surfactant (BALF)","c":0,"y":25.6,"e":0.2},{"s":"Porcine Surfactant (BALF)","c":1,"y":15.1,"e":0.7},{"s":"Porcine Surfactant (BALF)","c":2,"y":13.6,"e":1.0},{"s":"Porcine Surfactant (BALF)","c":3,"y":12.7,"e":1.65},{"s":"Porcine Surfactant (BALF)","c":4,"y":12.1,"e":2.0},{"s":"Porcine Surfactant (BALF)","c":5,"y":11.8,"e":2.05},{"s":"Porcine Surfactant (BALF)","c":6,"y":11.5,"e":2.15},{"s":"Porcine Surfactant (BALF)","c":7,"y":11.3,"e":2.3},{"s":"Porcine Surfactant (BALF)","c":8,"y":11.1,"e":2.3},{"s":"Porcine Surfactant (BALF)","c":9,"y":10.9,"e":2.45},{"s":"Porcine Surfactant (BALF)","c":10,"y":10.8,"e":2.6},
{"s":"Bovine Surfactant (Alveofact)","c":0,"y":25.3,"e":0.3},{"s":"Bovine Surfactant (Alveofact)","c":1,"y":13.9,"e":0.75},{"s":"Bovine Surfactant (Alveofact)","c":2,"y":10.9,"e":2.0},{"s":"Bovine Surfactant (Alveofact)","c":3,"y":8.5,"e":1.4},{"s":"Bovine Surfactant (Alveofact)","c":4,"y":6.6,"e":1.0},{"s":"Bovine Surfactant (Alveofact)","c":5,"y":5.4,"e":0.75},{"s":"Bovine Surfactant (Alveofact)","c":6,"y":4.4,"e":1.05},{"s":"Bovine Surfactant (Alveofact)","c":7,"y":3.8,"e":0.85},{"s":"Bovine Surfactant (Alveofact)","c":8,"y":3.3,"e":0.8},{"s":"Bovine Surfactant (Alveofact)","c":9,"y":2.6,"e":0.6},{"s":"Bovine Surfactant (Alveofact)","c":10,"y":2.2,"e":0.65}
],
"spacer": [{"k": 1}]
},
"spacing": 29.15,
"resolve": {"scale": {"color": "independent", "shape": "independent"}, "legend": {"color": "independent", "shape": "independent"}},
"hconcat": [
{
  "title": {"text": "a", "anchor": "start", "font": "Liberation Sans", "fontSize": 22, "offset": -4.5, "dx": 8},
  "spacing": 28,
  "vconcat": [
    {"spacing": -2.5, "hconcat": [
      {"width": 1, "height": 1, "data": {"name": "spacer"}, "mark": {"type": "point", "opacity": 0}, "encoding": {}},
      {"width": 263, "height": 203,
       "title": {"text": ["Porcine Surfactant", "(BALF)"], "fontSize": 15, "lineHeight": 21.5, "offset": 3, "frame": "group"},
       "data": {"name": "iso"}, "transform": [{"filter": "datum.p == 'A'"}],
       "mark": {"type": "line", "strokeWidth": 1.2, "interpolate": "monotone"},
       "encoding": {
         "x": {"field": "x", "type": "quantitative", "scale": {"domain": [0.2, 1], "nice": false}, "axis": {"values": [0.2,0.3,0.4,0.5,0.6,0.7,0.8,0.9,1], "format": ".1~f", "labelExpr": "round(datum.value*10) % 2 == 0 ? datum.label : ''", "tickSize": 3, "tickWidth": 2, "domainWidth": 2.5, "labelFontSize": 15, "labelPadding": 2, "title": null}},
         "y": {"field": "y", "type": "quantitative", "scale": {"domain": [-5, 65], "nice": false}, "axis": {"values": [0,20,40,60], "tickSize": 3, "tickWidth": 2, "domainWidth": 2.5, "labelFontSize": 15, "labelPadding": 2, "title": "Surface Pressure [mN/m]", "titleFontSize": 14.5, "titlePadding": 11}},
         "stroke": {"field": "n", "type": "quantitative", "scale": {"domain": [1, 8], "range": ["#202020", "#d8d8d8"]}, "legend": null},
         "strokeDash": {"field": "d", "type": "nominal", "scale": {"domain": ["s", "e"], "range": [[1, 0], [1.6, 1.6]]}, "legend": null}
       }},
      {"width": 263, "height": 203,
       "title": {"text": ["Bovine Surfactant", "(Alveofact)"], "fontSize": 15, "lineHeight": 21.5, "offset": 3, "frame": "group"},
       "data": {"name": "iso"}, "transform": [{"filter": "datum.p == 'B'"}],
       "mark": {"type": "line", "strokeWidth": 1.2, "interpolate": "monotone"},
       "encoding": {
         "x": {"field": "x", "type": "quantitative", "scale": {"domain": [0.2, 1], "nice": false}, "axis": {"values": [0.2,0.3,0.4,0.5,0.6,0.7,0.8,0.9,1], "format": ".1~f", "labelExpr": "round(datum.value*10) % 2 == 0 ? datum.label : ''", "tickSize": 3, "tickWidth": 2, "domainWidth": 2.5, "labelFontSize": 15, "labelPadding": 2, "title": null}},
         "y": {"field": "y", "type": "quantitative", "scale": {"domain": [-5, 65], "nice": false}, "axis": {"values": [0,20,40,60], "tickSize": 3, "tickWidth": 2, "domainWidth": 2.5, "labelFontSize": 15, "labelPadding": 2, "title": null}},
         "stroke": {"field": "n", "type": "quantitative", "scale": {"domain": [1, 8], "range": ["#202020", "#d8d8d8"]}, "legend": null},
         "strokeDash": {"field": "d", "type": "nominal", "scale": {"domain": ["s", "e"], "range": [[1, 0], [1.6, 1.6]]}, "legend": null}
       }}
    ]},
    {"spacing": -2.5, "hconcat": [
      {"width": 1, "height": 1, "data": {"name": "spacer"}, "mark": {"type": "point", "opacity": 0}, "encoding": {}},
      {"width": 263, "height": 201,
       "title": {"text": ["Human Surfactant", "(Mucus)"], "fontSize": 15, "lineHeight": 21, "offset": 5, "frame": "group"},
       "data": {"name": "iso"}, "transform": [{"filter": "datum.p == 'C'"}],
       "mark": {"type": "line", "strokeWidth": 1.2, "interpolate": "monotone"},
       "encoding": {
         "x": {"field": "x", "type": "quantitative", "scale": {"domain": [0.2, 1], "nice": false}, "axis": {"values": [0.2,0.3,0.4,0.5,0.6,0.7,0.8,0.9,1], "format": ".1~f", "labelExpr": "round(datum.value*10) % 2 == 0 ? datum.label : ''", "tickSize": 3, "tickWidth": 2, "domainWidth": 2.5, "labelFontSize": 15, "labelPadding": 2, "title": "Relative area", "titleFontSize": 17, "titlePadding": 18}},
         "y": {"field": "y", "type": "quantitative", "scale": {"domain": [-5, 65], "nice": false}, "axis": {"values": [0,20,40,60], "tickSize": 3, "tickWidth": 2, "domainWidth": 2.5, "labelFontSize": 15, "labelPadding": 2, "title": "Surface Pressure [mN/m]", "titleFontSize": 14.5, "titlePadding": 22}},
         "stroke": {"field": "n", "type": "quantitative", "scale": {"domain": [1, 8], "range": ["#202020", "#d8d8d8"]}, "legend": null},
         "strokeDash": {"field": "d", "type": "nominal", "scale": {"domain": ["s", "e"], "range": [[1, 0], [1.6, 1.6]]}, "legend": null}
       }},
      {"width": 263, "height": 201,
       "title": {"text": "Artificial Lining Fluid", "fontSize": 15, "offset": 25, "frame": "group"},
       "data": {"name": "iso"}, "transform": [{"filter": "datum.p == 'D'"}],
       "mark": {"type": "line", "strokeWidth": 1.2, "interpolate": "monotone"},
       "encoding": {
         "x": {"field": "x", "type": "quantitative", "scale": {"domain": [0.2, 1], "nice": false}, "axis": {"values": [0.2,0.3,0.4,0.5,0.6,0.7,0.8,0.9,1], "format": ".1~f", "labelExpr": "round(datum.value*10) % 2 == 0 ? datum.label : ''", "tickSize": 3, "tickWidth": 2, "domainWidth": 2.5, "labelFontSize": 15, "labelPadding": 2, "title": "Relative area", "titleFontSize": 17, "titlePadding": 18}},
         "y": {"field": "y", "type": "quantitative", "scale": {"domain": [-5, 65], "nice": false}, "axis": {"values": [0,20,40,60], "tickSize": 3, "tickWidth": 2, "domainWidth": 2.5, "labelFontSize": 15, "labelPadding": 2, "title": null}},
         "stroke": {"field": "n", "type": "quantitative", "scale": {"domain": [1, 8], "range": ["#202020", "#d8d8d8"]}, "legend": null},
         "strokeDash": {"field": "d", "type": "nominal", "scale": {"domain": ["s", "e"], "range": [[1, 0], [1.6, 1.6]]}, "legend": null}
       }}
    ]}
  ]
},
{
  "spacing": 5.75,
  "resolve": {"scale": {"color": "independent", "shape": "independent"}, "legend": {"color": "independent", "shape": "independent"}},
  "vconcat": [
    {"width": 1, "height": 40, "data": {"name": "spacer"}, "mark": {"type": "point", "opacity": 0}, "encoding": {}},
    {
      "width": 300, "height": 392,
      "view": {"stroke": "black", "strokeWidth": 2.5},
      "data": {"name": "cyc"},
      "layer": [
        {
          "encoding": {
            "x": {"field": "c", "type": "quantitative", "scale": {"domain": [-1, 10.8], "nice": false, "zero": false}, "axis": {"values": [0,1,2,3,4,5,6,7,8,9,10], "domain": false, "tickSize": 4, "tickWidth": 1.5, "labelFont": "DejaVu Sans", "labelFontSize": 16, "labelPadding": 2.5, "title": "Cycle", "titleFontSize": 15, "titlePadding": 35}},
            "y": {"field": "y", "type": "quantitative", "scale": {"domain": [-1, 28], "nice": false, "zero": false}, "axis": {"values": [0,2.5,5,7.5,10,12.5,15,17.5,20,22.5,25,27.5], "format": "d", "labelExpr": "datum.value % 5 == 0 ? datum.label : ''", "domain": false, "tickSize": 4, "tickWidth": 1.5, "labelFont": "DejaVu Sans", "labelFontSize": 16, "labelPadding": 1, "title": "Surface Pressure [mN/m]", "titleFontSize": 15, "titlePadding": 11}},
            "color": {"field": "s", "type": "nominal",
              "scale": {"domain": ["Porcine Surfactant (BALF)", "Bovine Surfactant (Alveofact)", "Human Surfactant (Mucus)", "Artifical Lining Fluid"], "range": ["#000000", "#00008b", "#808080", "#c0c0c0"]},
              "legend": {"orient": "none", "legendX": 42.5, "legendY": 17, "title": null, "padding": 0, "symbolSize": 400, "symbolStrokeWidth": 2.5, "symbolOpacity": 1, "labelOffset": 13.5, "labelFont": "Liberation Sans", "labelFontWeight": "bold", "labelFontSize": 15.5, "labelColor": "black", "labelLimit": 400, "rowPadding": 1.4}
            }
          },
          "layer": [
            {"transform": [{"filter": "datum.e > 0"}], "mark": {"type": "errorbar", "ticks": true, "size": 9, "thickness": 1.5}, "encoding": {"yError": {"field": "e"}}},
            {"mark": {"type": "line", "strokeWidth": 2.5}},
            {"transform": [{"filter": "datum.s == 'Artifical Lining Fluid' || datum.s == 'Porcine Surfactant (BALF)'"}], "mark": {"type": "point", "shape": "circle", "filled": true, "size": 55, "opacity": 1}},
            {"transform": [{"filter": "datum.s == 'Human Surfactant (Mucus)'"}], "mark": {"type": "point", "shape": "triangle-down", "filled": true, "size": 60, "opacity": 1}},
            {"transform": [{"filter": "datum.s == 'Bovine Surfactant (Alveofact)'"}], "mark": {"type": "point", "shape": "triangle-up", "filled": true, "size": 60, "opacity": 1}}
          ]
        },
        {"mark": {"type": "point", "filled": true, "opacity": 0},
         "encoding": {
           "shape": {"field": "s", "type": "nominal", "scale": {"domain": ["Porcine Surfactant (BALF)", "Bovine Surfactant (Alveofact)", "Human Surfactant (Mucus)", "Artifical Lining Fluid"], "range": ["M-1.6,0H1.6M-0.42,0A0.42,0.42,0,1,1,0.42,0A0.42,0.42,0,1,1,-0.42,0Z", "M-1.6,0H1.6M0,-0.5L0.5,0.4L-0.5,0.4Z", "M-1.6,0H1.6M0,0.5L0.5,-0.4L-0.5,-0.4Z", "M-1.6,0H1.6M-0.42,0A0.42,0.42,0,1,1,0.42,0A0.42,0.42,0,1,1,-0.42,0Z"]}, "legend": {"orient": "none", "legendX": 42.5, "legendY": 17, "title": null, "padding": 0, "symbolSize": 400, "symbolStrokeWidth": 2.5, "symbolOpacity": 1, "labelOffset": 13.5, "labelFont": "Liberation Sans", "labelFontWeight": "bold", "labelFontSize": 15.5, "labelColor": "black", "labelLimit": 400, "rowPadding": 1.4}},
           "x": {"field": "c", "type": "quantitative", "scale": {"domain": [-1, 10.8], "nice": false, "zero": false}, "axis": {"orient": "top", "domain": false, "ticks": false, "labels": false, "title": "b", "titleFont": "Liberation Sans", "titleFontSize": 21, "titleFontWeight": "bold", "titleX": -65, "titleY": 13, "titleAlign": "left", "titleBaseline": "alphabetic", "titleAngle": 0}},
           "y": {"field": "y", "type": "quantitative", "scale": {"domain": [-1, 28], "nice": false, "zero": false}, "axis": {"orient": "right", "values": [0,2.5,5,7.5,10,12.5,15,17.5,20,22.5,25,27.5], "labels": false, "domain": false, "tickSize": 4, "tickWidth": 1.5, "title": null}}
         }}
      ],
      "resolve": {"scale": {"x": "independent", "y": "independent"}, "axis": {"x": "independent", "y": "independent"}}
    }
  ]
}
]
}
